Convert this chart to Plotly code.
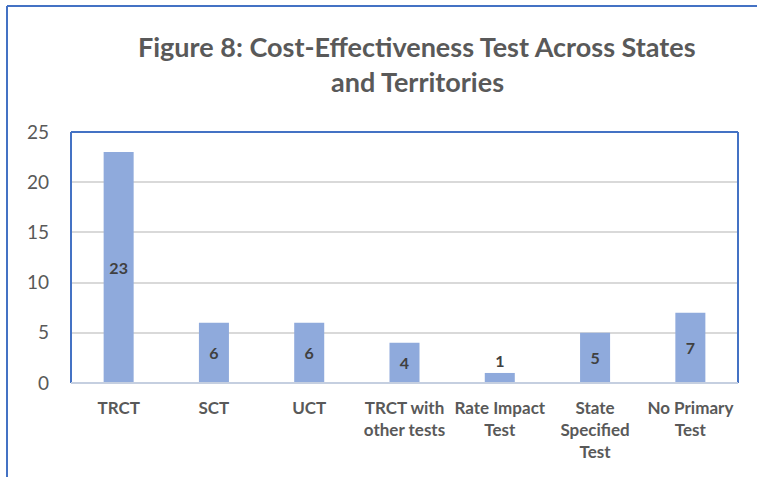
import plotly.graph_objects as go

categories = ["TRCT", "SCT", "UCT", "TRCT with<br>other tests", "Rate Impact<br>Test",
              "State<br>Specified<br>Test", "No Primary<br>Test"]
values = [23, 6, 6, 4, 1, 5, 7]
title_lines = ["Figure 8: Cost-Effectiveness Test Across States", "and Territories"]

W, H = 757, 477
L, R, T, B = 71, 738, 132, 383

def px(x):
    return (x - L) / (R - L)

def py(y):
    return (B - y) / (B - T)

fig = go.Figure(go.Bar(
    x=categories, y=values,
    marker=dict(color="#8FAADC", line=dict(width=0)),
    width=0.315,
    text=[str(v) for v in values],
    textposition="auto",
    insidetextanchor="middle",
    constraintext="none",
    textfont=dict(family="Lato", size=16, color="#404040", weight="bold"),
    cliponaxis=False,
))

fig.update_layout(
    width=W, height=H,
    margin=dict(l=L, r=W - R, t=T, b=H - B),
    paper_bgcolor="white", plot_bgcolor="white",
    showlegend=False,
    font=dict(family="Lato", color="#595959"),
    xaxis=dict(showgrid=False, showline=False, zeroline=False, ticks="",
               tickfont=dict(family="Lato", size=17, color="#595959", weight="bold"),
               ticklabelstandoff=13),
    yaxis=dict(range=[0, 25], dtick=5, showgrid=True, gridcolor="#D9D9D9", gridwidth=1.5,
               zeroline=False, showline=False, ticks="",
               tickfont=dict(family="Lato", size=19, color="#595959"),
               ticklabelstandoff=21),
)

shapes = []
blue = "#4472C4"
shapes.append(dict(type="line", xref="paper", yref="paper", x0=0, x1=1, y0=1, y1=1, line=dict(color=blue, width=2)))
shapes.append(dict(type="line", xref="paper", yref="paper", x0=0, x1=0, y0=0, y1=1, line=dict(color=blue, width=2)))
shapes.append(dict(type="line", xref="paper", yref="paper", x0=1, x1=1, y0=0, y1=1, line=dict(color=blue, width=2)))
shapes.append(dict(type="line", xref="paper", yref="paper", x0=0, x1=1, y0=0, y1=0, line=dict(color="#C5CFE0", width=2)))
shapes.append(dict(type="line", xref="paper", yref="paper", x0=px(7), x1=px(7), y0=py(477), y1=py(6), line=dict(color=blue, width=2)))
shapes.append(dict(type="line", xref="paper", yref="paper", x0=px(7), x1=px(757), y0=py(6), y1=py(6), line=dict(color=blue, width=2)))
fig.update_layout(shapes=shapes)

fig.add_annotation(text=title_lines[0], xref="paper", yref="paper", x=px(417), y=py(46),
                   showarrow=False, xanchor="center", yanchor="middle",
                   font=dict(family="Lato", size=27, color="#595959", weight="bold"))
fig.add_annotation(text=title_lines[1], xref="paper", yref="paper", x=px(417), y=py(81),
                   showarrow=False, xanchor="center", yanchor="middle",
                   font=dict(family="Lato", size=27, color="#595959", weight="bold"))

fig.write_html("out.html", config={"displayModeBar": False},
               post_script="document.body.style.margin='0';")
